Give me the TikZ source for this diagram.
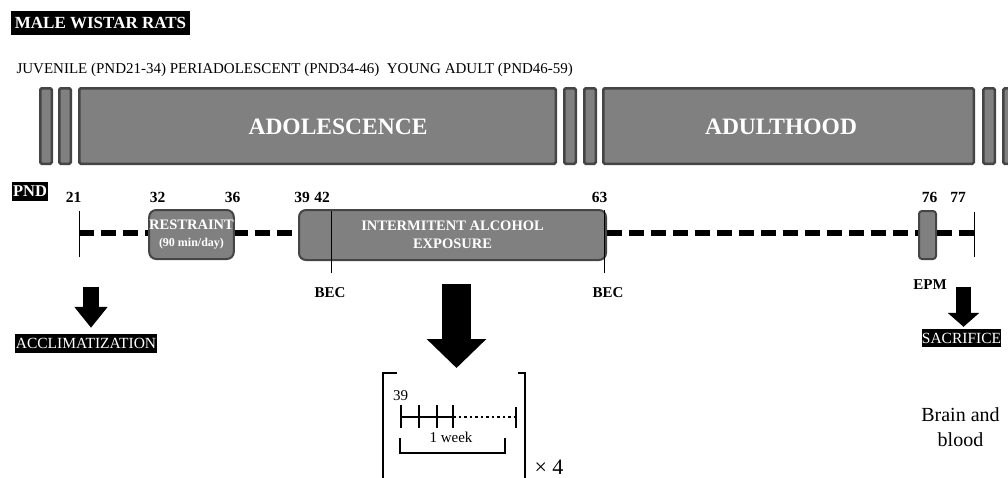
\documentclass[tikz,border=0pt]{standalone}
\usepackage{fontspec}
\setmainfont{Liberation Serif}
\usetikzlibrary{arrows.meta}
\definecolor{stagegray}{HTML}{808080}
\definecolor{stageedge}{HTML}{454545}

\begin{document}
\begin{tikzpicture}[
        x=1pt,
        y=-1pt,
        stage/.style={
            rectangle,
            draw=stageedge,
            fill=stagegray,
            line width=2.5pt,
            rounded corners=1.5pt,
            inner sep=0pt,
            minimum width=11.5pt,
            minimum height=75.5pt
        },
        stagetext/.style={
            text=white,
            font=\fontsize{23.5}{26}\selectfont\bfseries
        },
        treatment/.style={
            rectangle,
            draw=stageedge,
            fill=stagegray,
            line width=2pt,
            rounded corners=7pt,
            inner sep=0pt,
            align=center,
            text=white,
            font=\fontsize{14.5}{18}\selectfont\bfseries
        },
        blacktag/.style={
            rectangle,
            fill=black,
            text=white,
            inner sep=0pt,
            font=\fontsize{15.5}{17}\selectfont
        },
        daynum/.style={
            font=\fontsize{15.5}{18}\selectfont\bfseries
        },
        daytick/.style={
            draw,
            line width=1pt
        },
        dashline/.style={
            draw,
            line width=6pt,
            dash pattern=on 15pt off 7pt
        },
        bigarrow/.style={
            draw,
            line width=16pt,
            -{Triangle[length=21pt,width=32pt]}
        },
        bracket/.style={
            draw,
            line width=2pt
        },
      ]
        \useasboundingbox (0,0) rectangle (1008,477);
        \node [blacktag,font=\fontsize{17}{19}\selectfont\bfseries,minimum width=179pt,minimum height=24pt] (title) at (100.5,23) {MALE WISTAR RATS};
        \node [anchor=west,font=\fontsize{15}{17}\selectfont] (periods) at (13,70) {JUVENILE (PND21-34) PERIADOLESCENT (PND34-46)\ \ YOUNG ADULT (PND46-59)};
        \node [stage] (juvenile-a) at (46,126) {};
        \node [stage] (juvenile-b) at (65,126) {};
        \node [stage,minimum width=476.5pt] (adolescence) at (317.5,126) {};
        \node [stagetext] (adolescence-text) at (338,127) {ADOLESCENCE};
        \node [stage] (young-a) at (570,126) {};
        \node [stage] (young-b) at (590,126) {};
        \node [stage,minimum width=370.5pt] (adulthood) at (788.5,126) {};
        \node [stagetext] (adulthood-text) at (781,127) {ADULTHOOD};
        \node [stage] (adult-a) at (989,126) {};
        \node [stage] (adult-b) at (1009,126) {};
        \coordinate (pnd21) at (79,233);
        \coordinate (pnd77) at (975,233);
        \path [dashline] (pnd21) -- (pnd77);
        \node [blacktag,font=\fontsize{16.5}{18}\selectfont\bfseries,minimum width=36pt,minimum height=19pt] (pnd) at (30,191.5) {PND};
        \node [daynum] (day21) at (73.5,197) {21};
        \node [daynum] (day32) at (157.5,197) {32};
        \node [daynum] (day36) at (232.5,197) {36};
        \node [daynum] (day39) at (302,197) {39};
        \node [daynum] (day42) at (322,197) {42};
        \node [daynum] (day63) at (599.5,197) {63};
        \node [daynum] (day76) at (929.5,197) {76};
        \node [daynum] (day77) at (958,197) {77};
        \node [treatment,minimum width=83pt,minimum height=49pt] (restraint) at (191.5,234.5) {RESTRAINT\\[-1pt]{\fontsize{12}{13}\selectfont(90 min/day)}};
        \node [treatment,minimum width=307pt,minimum height=50pt] (alcohol) at (452.5,235) {INTERMITENT ALCOHOL\\EXPOSURE};
        \node [treatment,rounded corners=3pt,minimum width=17pt,minimum height=48pt] (epm-box) at (927.5,235) {};
        \path [daytick] (79,211) -- (79,257);
        \path [daytick] (331,211) -- (331,273);
        \path [daytick] (604,210) -- (604,273);
        \path [daytick] (974,212) -- (974,257);
        \node [daynum,font=\fontsize{15}{17}\selectfont\bfseries] (bec-start) at (330,293) {BEC};
        \node [daynum,font=\fontsize{15}{17}\selectfont\bfseries] (bec-end) at (608,293) {BEC};
        \node [daynum,font=\fontsize{15}{17}\selectfont\bfseries] (epm) at (930,285) {EPM};
        \node [blacktag,minimum width=142pt,minimum height=19pt] (acclimatization) at (86,343.5) {ACCLIMATIZATION};
        \node [blacktag,minimum width=77pt,minimum height=18pt] (sacrifice) at (961.5,338) {SACRIFICE};
        \coordinate (acclimatization-from) at (91,287);
        \coordinate (sacrifice-from) at (963.5,287);
        \coordinate (cycle-from) at (456.5,284);
        \coordinate (cycle-top) at (456.5,368);
        \path [bigarrow,shorten >=6pt] (acclimatization-from) -- (acclimatization-from |- acclimatization.north);
        \path [bigarrow,line width=15pt,-{Triangle[length=14pt,width=31pt]},shorten >=2pt] (sacrifice-from) -- (sacrifice-from |- sacrifice.north);
        \path [bigarrow,line width=29pt,-{Triangle[length=29pt,width=58pt]}] (cycle-from) -- (cycle-top);
        \path [bracket] (397,373) -- (383,373) -- (383,490);
        \path [bracket] (518,373) -- (525,373) -- (525,490);
        \node [font=\fontsize{22}{24}\selectfont] (times-four) at (549,467) {× 4};
        \node [font=\fontsize{15}{17}\selectfont] (cycle-day39) at (400.5,396) {39};
        \coordinate (week-a) at (401,417);
        \coordinate (week-b) at (419,417);
        \coordinate (week-c) at (437,417);
        \coordinate (week-d) at (453,417);
        \coordinate (week-end) at (516,417);
        \path [draw,line width=2pt] (week-a) -- (week-d);
        \path [draw,line width=2pt,dash pattern=on 2.5pt off 3pt] (week-d) -- (week-end);
        \foreach \w in {401,419,437,453} {
            \path [daytick,line width=1.3pt] (\w,405) -- (\w,428);
        }
        \path [daytick,line width=1.3pt] (516,407) -- (516,428);
        \path [draw,line width=1.3pt] (400,438) -- (400,453) -- (505,453) -- (505,438);
        \node [font=\fontsize{15}{17}\selectfont] (one-week) at (451,437) {1 week};
        \node [align=center,font=\fontsize{20}{25}\selectfont] (brain-blood) at (960.5,427.5) {Brain and\\blood};
      \end{tikzpicture}
\end{document}
